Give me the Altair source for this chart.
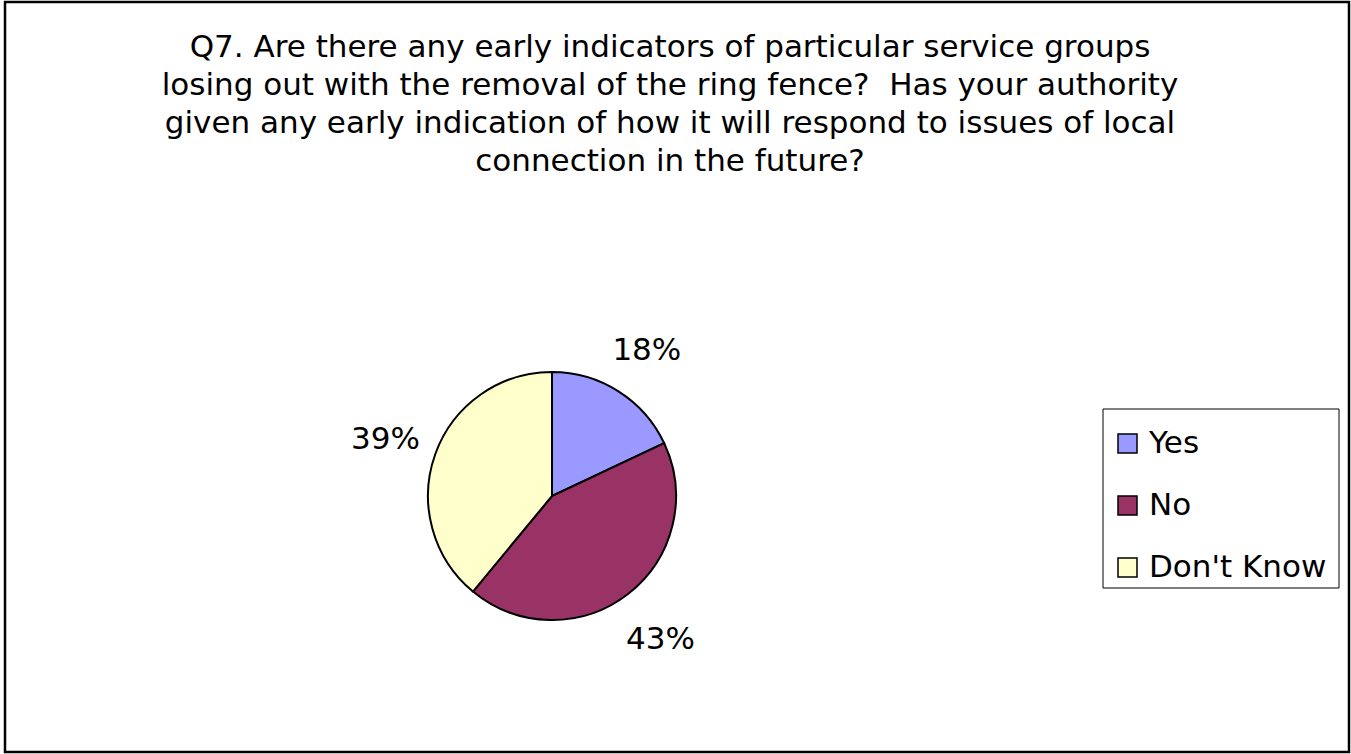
import altair as alt
import pandas as pd

categories = ["Yes", "No", "Don't Know"]
values = [18, 43, 39]
labels = ["18%", "43%", "39%"]
colors = ["#9999FF", "#993366", "#FFFFCC"]
title_lines = [
    "Q7. Are there any early indicators of particular service groups",
    "losing out with the removal of the ring fence?\u00a0 Has your authority",
    "given any early indication of how it will respond to issues of local",
    "connection in the future?",
]

FONT = "DejaVu Sans"
FS = 31
CX, CY, R = 552, 496, 124

df = pd.DataFrame({"category": categories, "value": values, "label": labels, "order": [0, 1, 2]})

base = alt.Chart(df).encode(
    theta=alt.Theta("value:Q", stack=True),
    order=alt.Order("order:Q"),
)

pie = base.mark_arc(stroke="black", strokeWidth=2, radius=R).encode(
    x=alt.value(CX),
    y=alt.value(CY),
    color=alt.Color(
        "category:N",
        scale=alt.Scale(domain=categories, range=colors),
        sort=categories,
        legend=alt.Legend(
            title=None,
            orient="none",
            legendX=1112,
            legendY=428,
            padding=0,
            symbolType="square",
            symbolSize=361,
            symbolStrokeColor="black",
            symbolStrokeWidth=1.5,
            labelFont=FONT,
            labelFontSize=FS,
            labelColor="black",
            labelOffset=6,
            rowPadding=30,
            labelLimit=400,
        ),
    ),
)

text = base.mark_text(radius=177, dy=4, font=FONT, fontSize=FS, color="black").encode(
    x=alt.value(CX),
    y=alt.value(CY),
    text="label:N",
)

title = alt.Chart(pd.DataFrame({"t": ["\n".join(title_lines)]})).mark_text(
    font=FONT, fontSize=FS, color="black", lineBreak="\n", lineHeight=38,
    align="center", baseline="alphabetic",
).encode(x=alt.value(670), y=alt.value(57), text="t:N")

border = alt.Chart(pd.DataFrame({"a": [0]})).mark_rect(
    fill=None, stroke="black", strokeWidth=2.5
).encode(x=alt.value(5), x2=alt.value(1349), y=alt.value(2), y2=alt.value(752))

legend_frame = alt.Chart(pd.DataFrame({"a": [0]})).mark_rect(
    fill="white", stroke="black", strokeWidth=1
).encode(x=alt.value(1103), x2=alt.value(1339), y=alt.value(409), y2=alt.value(588))

chart = alt.layer(border, legend_frame, pie, text, title).properties(
    width=1351, height=754,
    autosize=alt.AutoSizeParams(type="none"),
    padding=0,
    background="white",
).configure_view(stroke=None)

chart.save("out.html", embed_options={"renderer": "svg", "actions": False})
